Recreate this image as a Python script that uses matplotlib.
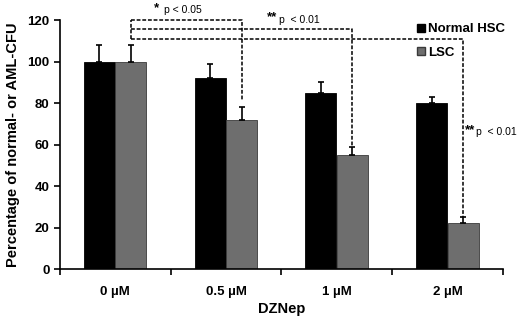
import matplotlib
matplotlib.use('Agg')
import matplotlib.pyplot as plt
from matplotlib.lines import Line2D
import numpy as np

plt.rcParams['font.family'] = ['Liberation Sans', 'DejaVu Sans']
plt.rcParams['font.weight'] = 'bold'

doses = ['0 \u00b5M', '0.5 \u00b5M', '1 \u00b5M', '2 \u00b5M']
normal_hsc = [100, 92, 85, 80]
normal_err = [8, 7, 5, 3]
lsc = [100, 72, 55, 22]
lsc_err = [8, 6, 4, 3]

# significance brackets from 0 uM LSC to each dose
sig_targets = [1, 2, 3]
sig_heights = [120, 115.5, 111]
sig_ends = [81, 59.5, 25]

x = np.arange(len(doses))
w = 0.28
off = 0.142

fig = plt.figure(figsize=(5.2, 3.2), dpi=100)
ax = fig.add_axes([0.115, 0.159, 0.852, 0.778])

ax.bar(x - off, normal_hsc, w, color='black', edgecolor='black', linewidth=0.6,
       yerr=[np.zeros(4), normal_err], error_kw=dict(ecolor='black', elinewidth=1.2, capsize=2.5, capthick=1.2))
ax.bar(x + off, lsc, w, color='#6e6e6e', edgecolor='#3a3a3a', linewidth=0.6,
       yerr=[np.zeros(4), lsc_err], error_kw=dict(ecolor='black', elinewidth=1.2, capsize=2.5, capthick=1.2))

ax.set_xlim(-0.5, 3.5)
ax.set_ylim(0, 120)
ax.set_yticks(range(0, 121, 20))
ax.set_xticks(x)
ax.set_xticklabels(doses)
ax.set_xticks(np.arange(-0.5, 4, 1), minor=True)
ax.tick_params(axis='x', which='major', length=0, pad=12, labelsize=9.5)
ax.tick_params(axis='x', which='minor', length=4, width=1.2, direction='out')
ax.tick_params(axis='y', length=4, width=1.2, direction='out', labelsize=9.5)
for s in ['top', 'right']:
    ax.spines[s].set_visible(False)
for s in ['left', 'bottom']:
    ax.spines[s].set_linewidth(1.2)

ax.set_xlabel('DZNep', fontsize=10.5, fontweight='bold', labelpad=3)
ax.set_ylabel('Percentage of normal- or AML-CFU', fontsize=10.5, fontweight='bold', labelpad=5)

# dashed significance brackets
ls = (0, (2.5, 1.2))
x0 = 0 + off
ax.plot([x0, x0], [min(sig_heights), max(sig_heights)], color='black', lw=1.1, linestyle=ls, clip_on=False)
for t, h, e in zip(sig_targets, sig_heights, sig_ends):
    ax.plot([x0, t + off, t + off], [h, h, e], color='black', lw=1.1, linestyle=ls, clip_on=False)

tk = dict(fontsize=7.5, fontweight='normal', ha='left', va='center', clip_on=False)
st = dict(fontsize=9.5, fontweight='bold', ha='left', va='center', clip_on=False)
ax.text(0.35, 125.8, '*', **st)
ax.text(0.44, 124.8, 'p < 0.05', **tk)
ax.text(1.37, 121.2, '**', **st)
ax.text(1.48, 120.2, 'p  < 0.01', **tk)
ax.text(3.16, 67.2, '**', **st)
ax.text(3.26, 66.0, 'p  < 0.01', **tk)

handles = [Line2D([], [], marker='s', color='black', markeredgecolor='black', linestyle='', markersize=6),
           Line2D([], [], marker='s', color='#6e6e6e', markeredgecolor='#3a3a3a', linestyle='', markersize=6)]
ax.legend(handles, ['Normal HSC', 'LSC'], loc='upper left', bbox_to_anchor=(0.795, 1.01),
          frameon=False, handlelength=0.6, handletextpad=0.2, labelspacing=0.85,
          prop={'weight': 'bold', 'size': 9.5}, borderaxespad=0)

fig.savefig('out.png', dpi=100)
